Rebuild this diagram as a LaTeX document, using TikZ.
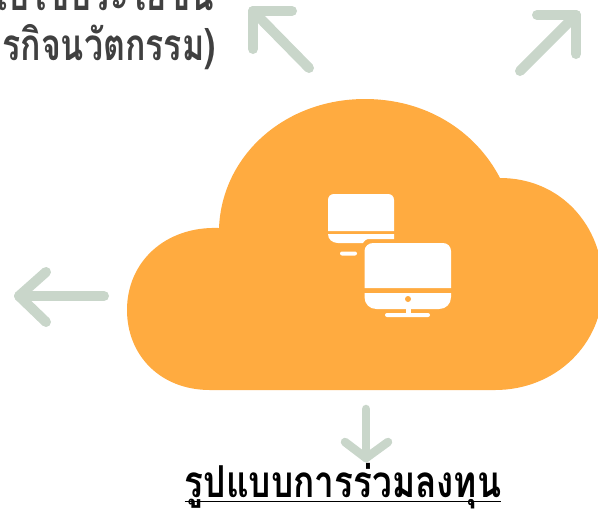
\documentclass[tikz,border=0pt]{standalone}
\usepackage{fontspec}
\newfontfamily\thaifont[Script=Thai]{Loma}
\definecolor{cloud}{HTML}{FFAB40}
\definecolor{arrowc}{HTML}{C9D6CA}
\definecolor{txt}{HTML}{404040}
\newcommand{\thaitext}[2]{\scalebox{#1}[1]{\thaifont\bfseries\fontsize{33}{36}\selectfont #2}}
\tikzset{
  arrowline/.style={draw=arrowc,line width=7.5pt,line cap=round,line join=round},
  arrowthin/.style={draw=arrowc,line width=6.4pt,line cap=round,line join=round},
  px/.style={x=0.75pt,y=-0.75pt},
  iconpart/.style={fill=white,draw=none},
}
\begin{document}
\begin{tikzpicture}[px]
\useasboundingbox (0,0) rectangle (598,508);
\begin{scope}
\clip (0,0) rectangle (598,508);
% cloud
\fill[cloud] (210,390) .. controls (160,390) and (127,355) .. (127,310)
 .. controls (127,262) and (165,226) .. (219,228)
 .. controls (222,155) and (285,99) .. (365,99)
 .. controls (425,99) and (475,130) .. (500,178)
 .. controls (560,178) and (603,225) .. (603,285)
 .. controls (603,345) and (555,390) .. (495,390) -- cycle;
% arrows
\coordinate (a1s) at (309,68); \coordinate (a1e) at (253,11);
\coordinate (a1h) at (253,49); \coordinate (a1i) at (292,11);
\draw[arrowline] (a1s) -- (a1e);
\draw[arrowline] (a1h) -- (a1e) -- (a1i);
\coordinate (a2s) at (520,71); \coordinate (a2e) at (576,15);
\coordinate (a2h) at (537,15); \coordinate (a2i) at (576,54);
\draw[arrowline] (a2s) -- (a2e);
\draw[arrowline] (a2h) -- (a2e) -- (a2i);
\coordinate (a3s) at (104,296); \coordinate (a3e) at (19,296);
\coordinate (a3h) at (46,272); \coordinate (a3i) at (46,322);
\draw[arrowline] (a3s) -- (a3e);
\draw[arrowline] (a3h) -- (a3e) -- (a3i);
\coordinate (a4s) at (366,409); \coordinate (a4e) at (366,458);
\coordinate (a4h) at (345,442); \coordinate (a4i) at (388,442);
\draw[arrowthin] (a4s) -- (a4e);
\draw[arrowthin] (a4h) -- (a4e) -- (a4i);
% text top
\node[anchor=base east,inner sep=0pt,text=txt] (t1) at (214,10) {\thaitext{0.78}{นำไปใช้ประโยชน์}};
\node[anchor=base east,inner sep=0pt,text=txt] (t2) at (216,60) {\thaitext{0.77}{(ธุรกิจนวัตกรรม)}};
% monitor back
\path[iconpart] (328,231) -- (328,200) .. controls (328,196.5) and (330.5,194) .. (334,194) -- (388,194) .. controls (391.5,194) and (394,196.5) .. (394,200) -- (394,231) -- cycle;
\path[iconpart] (328,234) -- (394,234) -- (394,239) -- (370,239) .. controls (366,239) and (365,240) .. (363,243) -- (338,243) .. controls (332,243) and (328,239) .. (328,234) -- cycle;
\path[iconpart,rounded corners=1.5pt] (340,251.5) rectangle (357,255.5);
% monitor front
\path[iconpart] (364.5,288) -- (364.5,251) .. controls (364.5,246.5) and (368.5,243) .. (373,243) -- (443,243) .. controls (447.5,243) and (451,246.5) .. (451,251) -- (451,288) -- cycle;
\path[iconpart] (364.5,293) -- (451,293) -- (451,297) .. controls (451,304) and (446,309) .. (439,309) -- (376.5,309) .. controls (369.5,309) and (364.5,304) .. (364.5,297) -- cycle;
\fill[cloud] (408,299) circle (3);
\path[iconpart] (405.5,309) rectangle (410.5,314);
\path[iconpart,rounded corners=1.5pt] (385,313) rectangle (430,317);
% caption
\node[anchor=base,inner sep=0pt,text=black] (cap) at (343,497) {\thaitext{0.80}{รูปแบบการร่วมลงทุน}};
\end{scope}
\draw[black,line width=1.1pt] (cap.base west |- 0,501.5) -- (cap.base east |- 0,501.5);
\end{tikzpicture}
\end{document}
